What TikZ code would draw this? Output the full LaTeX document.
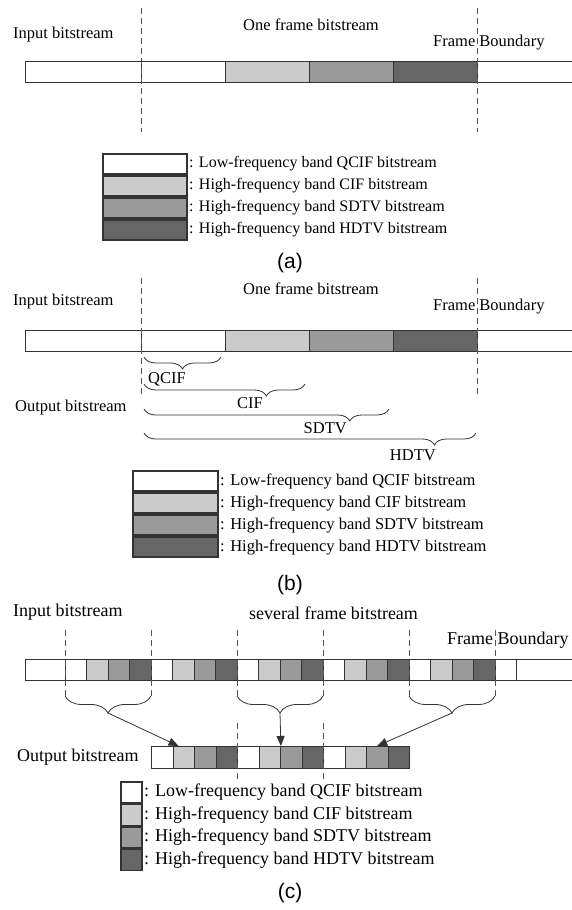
\documentclass[tikz,border=0pt]{standalone}
\usepackage{fontspec}
\setmainfont{Liberation Serif}
\newfontfamily\capfont{Liberation Sans}
\usetikzlibrary{arrows.meta,decorations.pathreplacing,calc}
\definecolor{bandL}{HTML}{CBCBCB}
\definecolor{bandM}{HTML}{9A9A9A}
\definecolor{bandD}{HTML}{666666}
\definecolor{edgegray}{HTML}{333333}
\definecolor{dashgray}{HTML}{555555}
\begin{document}
\begin{tikzpicture}[x=1pt,y=-1pt,
  txt/.style={inner sep=0pt, font=\fontsize{16.5}{18}\selectfont},
  txtL/.style={inner sep=0pt, font=\fontsize{18}{20}\selectfont},
  legA/.style={inner sep=0pt, font=\fontsize{16}{18}\selectfont},
  panelcap/.style={inner sep=0pt, font=\capfont\fontsize{21}{24}\selectfont},
  cellbox/.style={draw=edgegray, line width=0.9pt},
  legbox/.style={draw=edgegray, line width=1.2pt},
  outcell/.style={draw=edgegray, line width=0.9pt, rectangle, inner sep=0pt,
    minimum width=21.5pt, minimum height=22pt, anchor=north west},
  frameline/.style={draw=dashgray, line width=0.8pt, dash pattern=on 6pt off 4pt},
  bracepath/.style 2 args={draw=edgegray, line width=0.8pt, decorate,
    decoration={brace, mirror, amplitude=#1, aspect=#2}},
  arrowline/.style={draw=edgegray, line width=0.8pt, -{Triangle[length=10pt,width=8pt]}}
]
\useasboundingbox (0,0) rectangle (571,910);

% ---------------- (a) ----------------
\foreach \xa/\xb/\c in {25/141.5/white, 141.5/225.5/white, 225.5/309.5/bandL,
                        309.5/393.5/bandM, 393.5/477.5/bandD, 477.5/575/white}
  \draw[cellbox, fill=\c] (\xa,61) rectangle (\xb,82);
\draw[frameline] (141.5,8) -- (141.5,132);
\draw[frameline] (477.5,8) -- (477.5,132);
\node[txt, anchor=west] (inA) at (13,35) {Input bitstream};
\node[txt] (ofA) at (311,25) {One frame bitstream};
\node[txt, anchor=west] (fbA) at (433,43) {Frame Boundary};

\foreach \i/\c/\t in {0/white/Low-frequency band QCIF bitstream,
                      1/bandL/High-frequency band CIF bitstream,
                      2/bandM/High-frequency band SDTV bitstream,
                      3/bandD/High-frequency band HDTV bitstream} {
  \draw[legbox, fill=\c] (103,154+22*\i) rectangle (187,174+22*\i);
  \node[legA, anchor=west] (legA\i) at (189,164+22*\i) {: \t};
}
\node[panelcap] (capA) at (290,263) {(a)};

% ---------------- (b) ----------------
\foreach \xa/\xb/\c in {25/141.5/white, 141.5/225.5/white, 225.5/309.5/bandL,
                        309.5/393.5/bandM, 393.5/477.5/bandD, 477.5/575/white}
  \draw[cellbox, fill=\c] (\xa,330) rectangle (\xb,351);
\draw[frameline] (141.5,278) -- (141.5,397);
\draw[frameline] (477.5,278) -- (477.5,397);
\node[txt, anchor=west] (inB) at (13,302) {Input bitstream};
\node[txt] (ofB) at (311,289) {One frame bitstream};
\node[txt, anchor=west] (fbB) at (433,307) {Frame Boundary};

\draw[bracepath={12pt}{0.5}] (144,357) -- (221,357);
\draw[bracepath={12pt}{0.76}] (144,384) -- (305,384);
\draw[bracepath={12pt}{0.84}] (144,409) -- (389,409);
\draw[bracepath={12pt}{0.875}] (144,433) -- (476,433);
\node[txt, anchor=west] (qcif) at (148,379) {QCIF};
\node[txt, anchor=east] (cif) at (263,403) {CIF};
\node[txt, anchor=east] (sdtv) at (347,428) {SDTV};
\node[txt, anchor=east] (hdtv) at (436,455) {HDTV};
\node[txt, anchor=west] (outB) at (15,408) {Output bitstream};

\foreach \i/\c/\t in {0/white/Low-frequency band QCIF bitstream,
                      1/bandL/High-frequency band CIF bitstream,
                      2/bandM/High-frequency band SDTV bitstream,
                      3/bandD/High-frequency band HDTV bitstream} {
  \draw[legbox, fill=\c] (133,471+22*\i) rectangle (218,491+22*\i);
  \node[txt, anchor=west] (legB\i) at (220,481+22*\i) {: \t};
}
\node[panelcap] (capB) at (290,585) {(b)};

% ---------------- (c) ----------------
\draw[cellbox, fill=white] (25,659) rectangle (65,680);
\foreach \k in {0,...,4} {
  \foreach \j/\c in {0/white, 1/bandL, 2/bandM, 3/bandD}
    \draw[cellbox, fill=\c] (65+86*\k+21.5*\j,659) rectangle (65+86*\k+21.5*\j+21.5,680);
}
\draw[cellbox, fill=white] (495,659) rectangle (516.5,680);
\draw[cellbox, fill=white] (516.5,659) rectangle (575,680);
\foreach \k in {0,...,5}
  \draw[frameline] (65+86*\k,630) -- (65+86*\k,696);
\node[txtL, anchor=west] (inC) at (13,612) {Input bitstream};
\node[txtL] (sfC) at (333.5,613) {several frame bitstream};
\node[txtL, anchor=west] (fbC) at (447,640) {Frame Boundary};

\draw[bracepath={17pt}{0.5}] (65,696) -- (151,696);
\draw[bracepath={17pt}{0.5}] (237,696) -- (323,696);
\draw[bracepath={17pt}{0.5}] (409,696) -- (495,696);
\coordinate (t1) at (108,713);
\coordinate (t2) at (280,713);
\coordinate (t3) at (452,713);

\foreach \i/\c in {1/white, 2/bandL, 3/bandM, 4/bandD,
                   5/white, 6/bandL, 7/bandM, 8/bandD,
                   9/white, 10/bandL, 11/bandM, 12/bandD}
  \node[outcell, fill=\c] (o\i) at (151+21.5*\i-21.5,746) {};
\draw[frameline] (237,723) -- (237,779);
\draw[frameline] (323,723) -- (323,779);
\draw[arrowline] (t1) -- ($(o2.north west)!0.27!(o2.north east)$);
\draw[arrowline] (t2) -- (o6.north east);
\draw[arrowline] (t3) -- (o11.north);
\node[txtL, anchor=west] (outC) at (17,757) {Output bitstream};

\foreach \i/\c/\t in {0/white/Low-frequency band QCIF bitstream,
                      1/bandL/High-frequency band CIF bitstream,
                      2/bandM/High-frequency band SDTV bitstream,
                      3/bandD/High-frequency band HDTV bitstream} {
  \draw[legbox, fill=\c] (121,782+22.5*\i) rectangle (142,803+22.5*\i);
  \node[txtL, anchor=west] (legC\i) at (144,792.5+22.5*\i) {: \t};
}
\node[panelcap] (capC) at (290,893) {(c)};
\end{tikzpicture}
\end{document}
